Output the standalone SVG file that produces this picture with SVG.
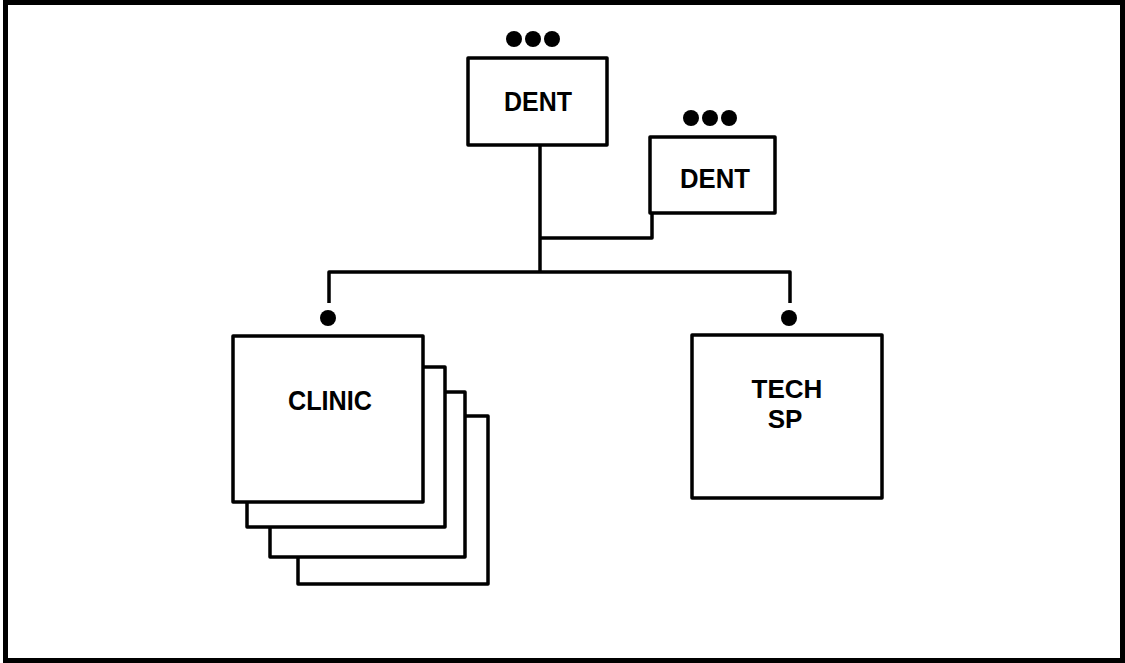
<svg xmlns="http://www.w3.org/2000/svg" width="1125" height="663" viewBox="0 0 1125 663">
  <style>
    .box { fill: #fff; stroke: #000; stroke-width: 3.5; stroke-linejoin: round; }
    .wire { fill: none; stroke: #000; stroke-width: 3.5; stroke-linejoin: round; }
    .dot { fill: #000; }
    .lbl { font-family: "Liberation Sans", Arial, sans-serif; font-weight: bold; font-size: 28px; fill: #000; text-anchor: middle; }
    .lbl-sm { font-family: "Liberation Sans", Arial, sans-serif; font-weight: bold; font-size: 26px; fill: #000; text-anchor: middle; }
  </style>
  <rect x="0" y="0" width="1125" height="663" fill="#fff"/>
  <!-- outer frame -->
  <rect x="5.5" y="2.5" width="1117" height="658" fill="none" stroke="#000" stroke-width="5"/>

  <!-- connectors -->
  <g id="connectors">
    <path class="wire" d="M540 145 V272"/>
    <path class="wire" d="M540 238 H652 V213"/>
    <path class="wire" d="M329 303 V272 H790 V303"/>
    <circle class="dot" cx="328" cy="318" r="8"/>
    <circle class="dot" cx="789" cy="318" r="8"/>
  </g>

  <g id="dent-main">
    <circle class="dot" cx="514" cy="39" r="8"/>
    <circle class="dot" cx="533" cy="39" r="8"/>
    <circle class="dot" cx="552" cy="39" r="8"/>
    <rect class="box" x="468" y="58" width="139" height="87"/>
    <text class="lbl" x="538" y="111" textLength="68" lengthAdjust="spacingAndGlyphs">DENT</text>
  </g>

  <g id="dent-second">
    <circle class="dot" cx="691" cy="118" r="8"/>
    <circle class="dot" cx="710" cy="118" r="8"/>
    <circle class="dot" cx="729" cy="118" r="8"/>
    <rect class="box" x="650" y="137" width="125" height="76"/>
    <text class="lbl" x="715" y="188" textLength="70" lengthAdjust="spacingAndGlyphs">DENT</text>
  </g>

  <g id="clinic">
    <rect class="box" x="298" y="416" width="190" height="168"/>
    <rect class="box" x="270" y="392" width="195" height="165"/>
    <rect class="box" x="247" y="367" width="198" height="160"/>
    <rect class="box" x="233" y="336" width="190" height="166"/>
    <text class="lbl" x="330" y="410" textLength="84" lengthAdjust="spacingAndGlyphs">CLINIC</text>
  </g>

  <g id="tech-sp">
    <rect class="box" x="692" y="335" width="190" height="163"/>
    <text class="lbl-sm"><tspan x="787" y="398">TECH</tspan><tspan x="785" y="428">SP</tspan></text>
  </g>
</svg>
